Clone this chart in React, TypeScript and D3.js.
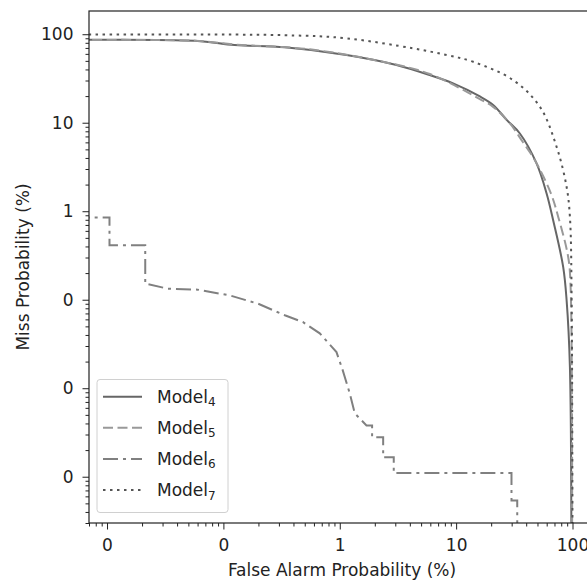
import { useEffect, useRef } from 'react';
import * as d3 from 'd3';

// false alarm (%) / miss (%) pairs
const model4FA = [0.001, 0.0567, 0.125, 0.337, 1.142, 3.07, 5.94, 9.42, 16.0, 20.8, 27.3, 35.3, 49.1, 59.9, 68.2, 83.2, 89.0, 95.0, 97.9];
const model4Miss = [84.4, 84.4, 75.5, 71.1, 58.2, 44.9, 34.5, 27.8, 19.8, 15.9, 10.7, 7.56, 3.47, 1.59, 0.791, 0.234, 0.0985, 0.0173, 0.00001];

const model5FA = [0.001, 0.0567, 0.125, 0.552, 2.34, 5.94, 16.0, 20.8, 29.0, 36.5, 47.5, 65.2, 75.4, 91.8, 96.3, 98.9];
const model5Miss = [84.4, 84.4, 76.5, 67.5, 48.9, 35.5, 18.5, 15.1, 9.82, 6.36, 3.77, 1.59, 0.862, 0.304, 0.139, 0.00001];

const model6FA = [0.001, 0.0105, 0.0105, 0.0213, 0.0213, 0.0332, 0.0601, 0.113, 0.198, 0.337, 0.481, 0.673, 0.937, 1.061, 1.219, 1.346, 1.696, 1.896, 1.896, 2.36, 2.36, 2.91, 2.91, 29.9, 29.9, 33.5, 33.5];
const model6Miss = [0.849, 0.849, 0.413, 0.413, 0.152, 0.1335, 0.13, 0.112, 0.0903, 0.0667, 0.056, 0.0417, 0.0256, 0.0159, 0.00873, 0.00519, 0.0038, 0.0038, 0.0028, 0.0028, 0.00166, 0.00166, 0.0011, 0.0011, 0.000538, 0.000538, 0.00001];

const model7FA = [0.001, 0.337, 1.142, 4.27, 8.27, 14.0, 30.9, 52.5, 73.0, 89.0, 95.0, 98.3, 99.9];
const model7Miss = [97.9, 97.5, 89.9, 69.2, 58.2, 48.8, 30.3, 15.1, 5.34, 1.88, 0.862, 0.0985, 0.00001];

const seriesNames = ['4', '5', '6', '7'];
const xTicks = [0.01, 0.1, 1, 10, 100];
const yTicks = [0.001, 0.01, 0.1, 1, 10, 100];

const W = 587;
const H = 581;
const font = 'DejaVu Sans, sans-serif';
const fs = 17;

const App = () => {
  const svgRef = useRef<SVGSVGElement>(null);

  useEffect(() => {
    const svg = d3.select(svgRef.current);
    svg.selectAll('*').remove();

    const left = 89, right = 593, top = 11, bottom = 523;
    const x = d3.scaleLog().domain([0.007, 150]).range([left, right]);
    const y = d3.scaleLog().domain([0.0003, 183]).range([bottom, top]);

    svg.append('defs').append('clipPath').attr('id', 'plotclip')
      .append('rect').attr('x', left).attr('y', top)
      .attr('width', right - left).attr('height', bottom - top);

    const series = [
      { fa: model4FA, miss: model4Miss, color: '#666666', dash: null, step: false },
      { fa: model5FA, miss: model5Miss, color: '#999999', dash: '10,4.5', step: false },
      { fa: model6FA, miss: model6Miss, color: '#808080', dash: '15,5,3,5', step: true },
      { fa: model7FA, miss: model7Miss, color: '#555555', dash: '2.5,4.5', step: false },
    ];

    const plot = svg.append('g').attr('clip-path', 'url(#plotclip)');
    series.forEach(s => {
      const pts = s.fa.map((f, i) => [f, s.miss[i]] as [number, number]);
      const line = d3.line<[number, number]>()
        .x(d => x(d[0]))
        .y(d => y(d[1]))
        .curve(s.step ? d3.curveLinear : d3.curveCatmullRom.alpha(0.5));
      plot.append('path')
        .attr('d', line(pts))
        .attr('fill', 'none')
        .attr('stroke', s.color)
        .attr('stroke-width', 2)
        .attr('stroke-dasharray', s.dash);
    });

    // x axis
    const xAxis = d3.axisBottom(x)
      .tickValues(xTicks)
      .tickFormat(d => String(Math.round(+d)))
      .tickSize(6.5)
      .tickPadding(9.5);
    const xMinor = d3.range(-3, 3).flatMap(e => d3.range(2, 10).map(m => m * Math.pow(10, e)))
      .filter(v => v >= x.domain()[0] && v <= x.domain()[1]);
    const gx = svg.append('g').attr('transform', `translate(0,${bottom})`);
    gx.append('g').call(d3.axisBottom(x).tickValues(xMinor).tickFormat(() => '').tickSize(3.5))
      .call(g => g.select('.domain').remove());
    gx.append('g').call(xAxis).call(g => g.select('.domain').remove());
    gx.selectAll('text').attr('font-size', fs).attr('font-family', font).attr('fill', '#222');

    // y axis
    const yAxis = d3.axisLeft(y)
      .tickValues(yTicks)
      .tickFormat(d => String(Math.round(+d)))
      .tickSize(6.5)
      .tickPadding(9);
    const yMinor = d3.range(-4, 3).flatMap(e => d3.range(2, 10).map(m => m * Math.pow(10, e)))
      .filter(v => v >= y.domain()[0] && v <= y.domain()[1]);
    const gy = svg.append('g').attr('transform', `translate(${left},0)`);
    gy.append('g').call(d3.axisLeft(y).tickValues(yMinor).tickFormat(() => '').tickSize(3.5))
      .call(g => g.select('.domain').remove());
    gy.append('g').call(yAxis).call(g => g.select('.domain').remove());
    gy.selectAll('text').attr('font-size', fs).attr('font-family', font).attr('fill', '#222');

    svg.selectAll('.tick line').attr('stroke', '#222');

    // frame
    svg.append('rect')
      .attr('x', left).attr('y', top)
      .attr('width', right - left).attr('height', bottom - top)
      .attr('fill', 'none').attr('stroke', '#222').attr('stroke-width', 1.2);

    // axis labels
    svg.append('text')
      .attr('x', 342).attr('y', 575.5)
      .attr('text-anchor', 'middle')
      .attr('font-size', fs).attr('font-family', font).attr('fill', '#222')
      .text('False Alarm Probability (%)');
    svg.append('text')
      .attr('transform', `translate(28.5,${(top + bottom) / 2}) rotate(-90)`)
      .attr('text-anchor', 'middle')
      .attr('font-size', fs).attr('font-family', font).attr('fill', '#222')
      .text('Miss Probability (%)');

    // legend
    const lg = svg.append('g');
    lg.append('rect')
      .attr('x', 97).attr('y', 379.5).attr('width', 131).attr('height', 133)
      .attr('rx', 3).attr('fill', 'white').attr('fill-opacity', 0.8)
      .attr('stroke', '#d0d0d0').attr('stroke-width', 1);
    series.forEach((s, i) => {
      const cy = 396.7 + i * 31.1;
      lg.append('line')
        .attr('x1', 103).attr('x2', 142).attr('y1', cy).attr('y2', cy)
        .attr('stroke', s.color).attr('stroke-width', 2)
        .attr('stroke-dasharray', s.dash);
      const t = lg.append('text')
        .attr('x', 157).attr('y', cy + 6)
        .attr('font-size', fs).attr('font-family', font).attr('fill', '#222');
      t.append('tspan').text('Model');
      t.append('tspan').attr('font-size', 12).attr('dy', 3.5).text(seriesNames[i]);
    });
  }, []);

  return (
    <svg ref={svgRef} width={W} height={H}
      style={{ position: 'fixed', left: 0, top: 0, display: 'block', background: 'white' }} />
  );
};

export default App;
